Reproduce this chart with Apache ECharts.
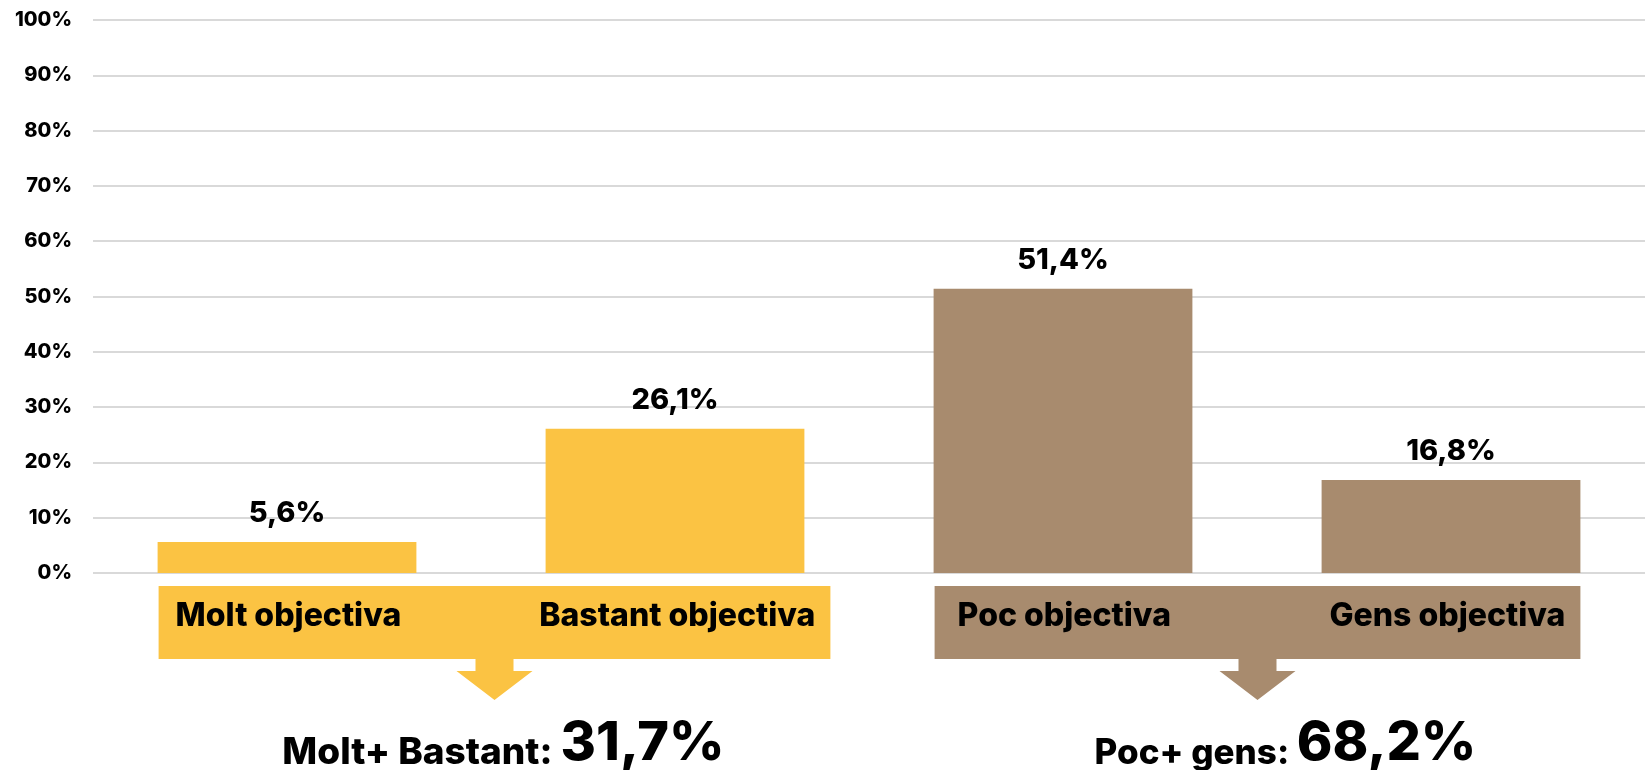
<!DOCTYPE html>
<html>
<head>
<meta charset="utf-8">
<style>
html,body{margin:0;padding:0;background:#fff;}
#echarts1{width:1650px;height:770px;}
</style>
<script src="https://cdn.jsdelivr.net/npm/echarts@6/dist/echarts.min.js"></script>
</head>
<body>
<div id="echarts1"></div>
<script>
// dades
var categories = ["Molt objectiva", "Bastant objectiva", "Poc objectiva", "Gens objectiva"];
var values = [5.6, 26.1, 51.4, 16.8];
var yTicks = [0, 10, 20, 30, 40, 50, 60, 70, 80, 90, 100];
var groupNames = ["Molt+ Bastant: ", "Poc+ gens: "];
var groupTotals = [31.7, 68.2];
var groupCats = [[0, 1], [2, 3]];

var yellow = "#FBC343";
var brown = "#A88B6E";
var groupColor = [yellow, brown];
var barColors = [yellow, yellow, brown, brown];
var fontName = "Inter, Lato, sans-serif";

function pct(v){
    return v.toFixed(1).replace(".", ",") + "%";
}

var myChart1 = echarts.init(document.getElementById('echarts1'));
myChart1.setOption({
    animation: false,
    grid: {left: 93, right: 5, top: 20, bottom: 197},
    xAxis: {
        type: "category",
        data: categories,
        axisLine: {show: false},
        axisTick: {show: false},
        axisLabel: {show: false}
    },
    yAxis: {
        type: "value",
        min: yTicks[0],
        max: yTicks[yTicks.length - 1],
        interval: yTicks[1] - yTicks[0],
        axisLabel: {
            formatter: "{value}%",
            color: "#000",
            fontFamily: fontName,
            fontWeight: 800,
            fontSize: 20,
            margin: 21
        },
        splitLine: {lineStyle: {color: "#d9d9d9", width: 2}}
    },
    series: [{
        type: "bar",
        barWidth: "66.7%",
        data: values.map(function(v, i){
            return {value: v, itemStyle: {color: barColors[i]}};
        }),
        label: {
            show: true,
            position: "top",
            distance: 14,
            color: "#000",
            fontFamily: fontName,
            fontWeight: 800,
            fontSize: 29,
            formatter: function(p){ return pct(p.value); }
        }
    }]
});

// caixes, fletxes i totals
var boxPadRight = [26, 0];
var summaryShift = [9, 28];
var summaryLabelSize = [37, 35];
var y0 = myChart1.convertToPixel({yAxisIndex: 0}, 0);
var band = myChart1.convertToPixel({xAxisIndex: 0}, 1) - myChart1.convertToPixel({xAxisIndex: 0}, 0);
var half = band * 0.667 / 2;
var graphics = [];
groupCats.forEach(function(cats, g){
    var left = myChart1.convertToPixel({xAxisIndex: 0}, cats[0]) - half + 1;
    var right = myChart1.convertToPixel({xAxisIndex: 0}, cats[1]) + half + boxPadRight[g];
    var top = y0 + 13;
    var h = 73;
    var cx = (left + right) / 2;
    var bottom = top + h;
    graphics.push({
        type: "rect",
        shape: {x: left, y: top, width: right - left, height: h},
        style: {fill: groupColor[g]}
    });
    graphics.push({
        type: "text",
        x: left + 17 + g * 6,
        y: top + 30,
        style: {
            text: categories[cats[0]],
            fill: "#000",
            font: "800 32px " + fontName,
            align: "left",
            verticalAlign: "middle"
        }
    });
    graphics.push({
        type: "text",
        x: right - 15,
        y: top + 30,
        style: {
            text: categories[cats[1]],
            fill: "#000",
            font: "800 32px " + fontName,
            align: "right",
            verticalAlign: "middle"
        }
    });
    graphics.push({
        type: "polygon",
        shape: {points: [
            [cx - 19, bottom], [cx + 19, bottom], [cx + 19, bottom + 12],
            [cx + 38, bottom + 12], [cx, bottom + 41], [cx - 38, bottom + 12],
            [cx - 19, bottom + 12]
        ]},
        style: {fill: groupColor[g]}
    });
    graphics.push({
        type: "text",
        x: cx + summaryShift[g],
        y: 744,
        style: {
            text: "{a|" + groupNames[g] + "}{b|" + pct(groupTotals[g]) + "}",
            align: "center",
            verticalAlign: "middle",
            rich: {
                a: {fontFamily: fontName, fontWeight: 800, fontSize: summaryLabelSize[g], fill: "#000", verticalAlign: "bottom", lineHeight: 54},
                b: {fontFamily: fontName, fontWeight: 800, fontSize: 54, fill: "#000", verticalAlign: "bottom", lineHeight: 54}
            }
        }
    });
});
myChart1.setOption({graphic: graphics});

window.addEventListener("resize", function() {
    myChart1.resize();
});
</script>
</body>
</html>
